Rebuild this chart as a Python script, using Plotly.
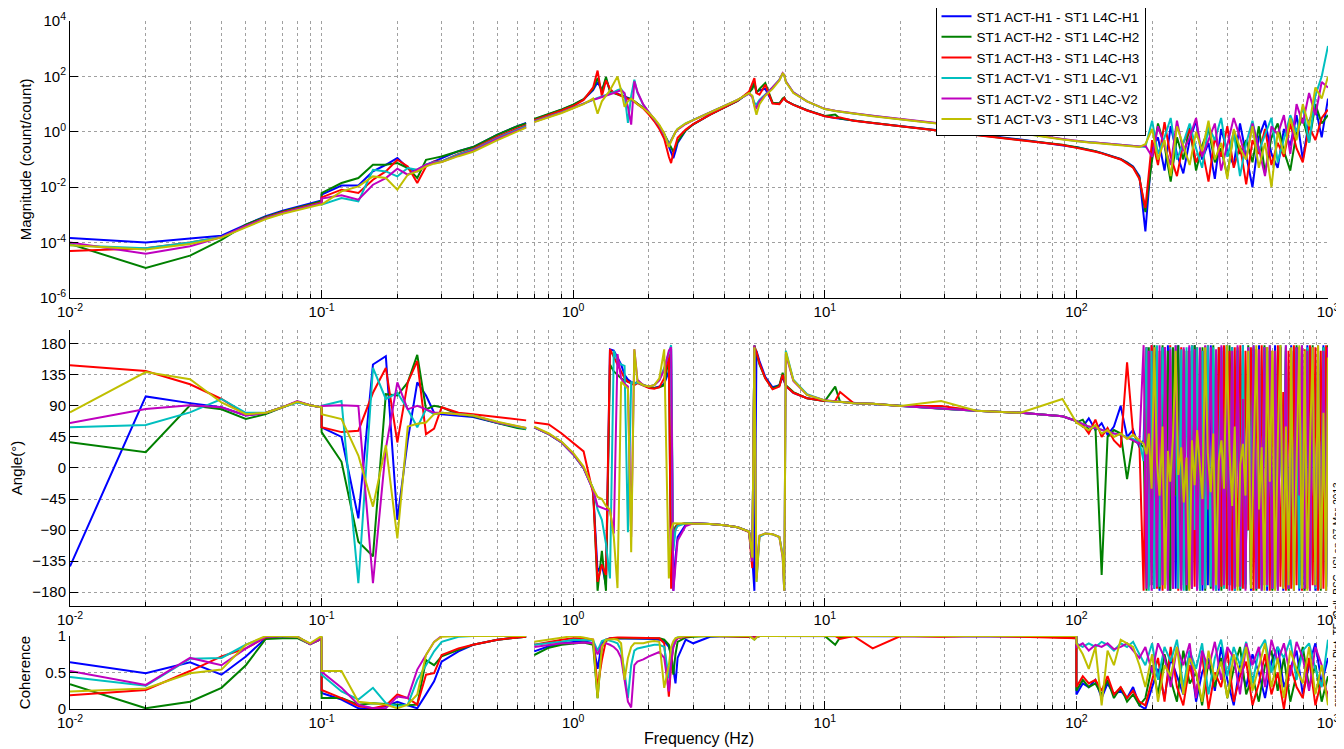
import plotly.graph_objects as go

# frequency bands (Hz)
F_A = [0.01, 0.02, 0.03, 0.04, 0.05, 0.06, 0.07, 0.08, 0.09, 0.1]
F_B = [0.1, 0.12, 0.14, 0.16, 0.18, 0.2, 0.22, 0.24, 0.26, 0.28, 0.3, 0.35, 0.4, 0.5, 0.6, 0.65]
F_C = [0.7, 0.8, 0.9, 1.0, 1.1, 1.2, 1.25, 1.3, 1.35, 1.4, 1.45, 1.5, 1.55, 1.6, 1.65, 1.7, 1.75, 1.8, 1.9, 2.0,
       2.1, 2.2, 2.3, 2.4, 2.45, 2.5, 2.55, 2.6, 2.8, 3.0, 3.5, 4.0, 4.5, 5.0, 5.15, 5.25, 5.35, 5.5, 5.8, 6.2,
       6.6, 6.8, 6.9, 7.0, 7.5, 8.5, 10, 11, 11.5, 13, 15.5, 20, 29, 40, 60, 88, 100]
F_D = [100, 106, 112, 119, 126, 133, 141, 150, 159, 168, 178, 188, 200, 211, 224, 237, 251, 266, 282, 299,
       316, 335, 355, 376, 398, 422, 447, 473, 501, 531, 562, 596, 631, 668, 708, 750, 794, 841, 891, 944, 1000]
# finer points used for the wrapped phase above 185 Hz
F_P = [185, 190, 194, 199, 204, 209, 214, 220, 225, 231, 236, 242, 248, 254, 261, 267, 274, 281, 288, 295,
       302, 310, 317, 325, 333, 342, 350, 359, 368, 377, 386, 396, 406, 416, 426, 437, 448, 459, 470, 482,
       494, 506, 519, 532, 545, 559, 573, 587, 601, 616, 632, 647, 664, 680, 697, 714, 732, 750, 769, 788,
       808, 828, 848, 869, 891, 913, 936, 959, 983, 1000]

# None splits the 0.1-0.65 Hz measurement from the 0.7-1000 Hz one
FREQ = F_A + F_B + [None] + F_C + F_D
FREQ_ANG = F_A + F_B + [None] + F_C + F_D[:11] + F_P

NAMES = ["ST1 ACT-H1 - ST1 L4C-H1", "ST1 ACT-H2 - ST1 L4C-H2", "ST1 ACT-H3 - ST1 L4C-H3",
         "ST1 ACT-V1 - ST1 L4C-V1", "ST1 ACT-V2 - ST1 L4C-V2", "ST1 ACT-V3 - ST1 L4C-V3"]
COLORS = ["#0000ff", "#008000", "#ff0000", "#00bfbf", "#bf00bf", "#bfbf00"]

# magnitude, log10(count/count)
mag_h1 = [
    -3.83, -4.0, -3.85, -3.75, -3.35, -3.05, -2.85, -2.72, -2.6, -2.48,
    -2.27, -1.94, -1.94, -1.43, -1.19, -0.95, -1.31, -1.43, -1.19, -1.07, -0.95, -0.7, -0.55, -0.1, 0.2, 0.32,
    None,
    0.45, 0.63, 0.8, 0.97, 1.17, 1.5, 1.8, 1.5, 1.9, 1.5, 1.42, 1.38, 1.33, 1.28, 1.23, 1.18, 1.1, 1.02, 0.86, 0.66,
    0.44, 0.2, -0.1, -0.5, -0.75, -0.95, -0.7, -0.4, 0.05, 0.27, 0.62, 0.87, 1.12, 1.42, 1.6, 1.8, 1.45, 1.5, 1.55, 1.05,
    1.02, 1.18, 1.22, 1.12, 0.98, 0.78, 0.57, 0.5, 0.47, 0.41, 0.32, 0.2, 0.04, -0.1, -0.28, -0.47, -0.56,
    -0.55, -0.6, -0.64, -0.7, -0.76, -0.83, -0.9, -0.98, -1.1, -1.25, -1.6, -3.6, -0.6, -0.2, -1.4, 0.2, -0.8, -1.5, -0.3, 0.4,
    -1.0, -0.4, -1.7, 0.1, -0.7, -1.2, 0.3, -0.9, -2.0, -0.2, 0.4, -0.8, -1.3, 0.1, -0.5, 0.6, -1.0, 0.4, 0.9, -0.2, 1.2,
]
mag_h2 = [
    -4.05, -4.92, -4.47, -3.9, -3.35, -3.07, -2.88, -2.75, -2.62, -2.5,
    -2.21, -1.85, -1.67, -1.19, -1.19, -1.13, -1.31, -1.67, -1.01, -0.95, -0.89, -0.7, -0.55, -0.1, 0.2, 0.3,
    None,
    0.46, 0.64, 0.81, 0.98, 1.18, 1.55, 1.94, 1.45, 1.98, 1.45, 1.4, 1.36, 1.32, 1.27, 1.22, 1.17, 1.1, 1.02, 0.86, 0.66,
    0.44, 0.2, -0.08, -0.4, -0.6, -0.72, -0.55, -0.35, 0.05, 0.27, 0.62, 0.87, 1.12, 1.42, 1.55, 1.76, 1.4, 1.55, 1.76, 1.05,
    1.02, 1.2, 1.24, 1.12, 0.98, 0.78, 0.57, 0.62, 0.48, 0.41, 0.32, 0.2, 0.04, -0.1, -0.28, -0.47, -0.56,
    -0.56, -0.6, -0.65, -0.7, -0.77, -0.84, -0.9, -0.99, -1.12, -1.28, -1.65, -2.9, -1.0, 0.3, -0.5, -1.8, -0.2, -1.0, 0.2, -1.4,
    -0.5, 0.1, -1.1, -0.6, -1.6, 0.0, -0.8, -0.3, -1.1, 0.2, -1.5, -0.2, 0.3, -0.7, -1.4, 0.0, 0.5, -0.4, 1.0, 0.3, 0.6,
]
mag_h3 = [
    -4.3, -4.2, -4.0, -3.8, -3.4, -3.1, -2.9, -2.77, -2.65, -2.55,
    -2.37, -2.09, -2.21, -1.73, -1.43, -1.01, -1.25, -1.85, -1.25, -1.07, -1.07, -0.8, -0.62, -0.18, 0.12, 0.24,
    None,
    0.42, 0.6, 0.77, 0.93, 1.15, 1.6, 2.21, 1.28, 1.85, 1.55, 1.42, 1.36, 1.3, 1.25, 1.2, 1.15, 1.08, 1.0, 0.84, 0.62,
    0.38, 0.1, -0.25, -0.9, -1.13, -0.75, -0.45, -0.22, 0.08, 0.28, 0.62, 0.87, 1.12, 1.45, 1.75, 1.94, 1.4, 1.34, 1.7, 1.02,
    1.0, 1.18, 1.22, 1.12, 0.97, 0.77, 0.56, 0.5, 0.52, 0.4, 0.32, 0.2, 0.05, -0.1, -0.28, -0.48, -0.58,
    -0.58, -0.62, -0.66, -0.72, -0.78, -0.85, -0.92, -1.0, -1.15, -1.3, -1.7, -2.75, -0.3, -1.2, 0.35, -0.9, -1.6, -0.4, 0.1, -1.1,
    -0.6, -1.8, -0.2, -0.9, 0.2, -1.3, -0.5, -1.9, -0.3, -0.8, 0.1, -1.2, -0.4, -0.9, 0.3, -0.6, -1.1, 0.2, -0.3, 0.5, 0.8,
]
mag_v1 = [
    -4.1, -4.2, -4.0, -3.8, -3.42, -3.12, -2.93, -2.8, -2.68, -2.58,
    -2.63, -2.39, -2.51, -1.37, -1.43, -1.61, -1.31, -1.37, -1.19, -1.1, -1.07, -0.82, -0.65, -0.22, 0.08, 0.2,
    None,
    0.38, 0.55, 0.71, 0.87, 1.03, 1.17, 1.22, 1.28, 1.33, 1.38, 1.43, 1.5, 1.55, 1.35, 0.32, 1.3, 1.88, 1.4, 0.97, 0.7,
    0.47, 0.22, -0.1, -0.45, -0.3, -0.12, 0.0, 0.1, 0.3, 0.43, 0.7, 0.93, 1.15, 1.38, 1.3, 1.05, 0.98, 1.15, 1.35, 1.6,
    1.88, 2.1, 2.05, 1.82, 1.42, 1.1, 0.82, 0.75, 0.72, 0.66, 0.57, 0.45, 0.29, 0.16, -0.04, -0.27, -0.34,
    -0.33, -0.35, -0.37, -0.38, -0.4, -0.42, -0.44, -0.46, -0.48, -0.5, -0.52, -0.55, 0.4, -0.8, -0.2, 0.5, -1.0, -0.4, 0.3, -0.6,
    -1.3, 0.2, -0.3, 0.5, -0.9, 0.0, -1.6, -0.4, 0.4, -0.7, -0.1, 0.5, -1.1, -0.3, 0.6, 0.0, 0.9, -0.4, 1.3, 2.0, 3.1,
]
mag_v2 = [
    -4.0, -4.4, -4.13, -3.8, -3.4, -3.12, -2.93, -2.8, -2.68, -2.58,
    -2.41, -2.29, -2.45, -1.91, -1.67, -1.33, -1.55, -1.37, -1.19, -1.12, -1.09, -0.85, -0.68, -0.25, 0.05, 0.17,
    None,
    0.36, 0.53, 0.7, 0.86, 1.02, 1.16, 1.2, 1.26, 1.3, 1.35, 1.4, 1.45, 1.5, 1.4, 0.9, 0.26, 1.82, 1.45, 0.98, 0.7,
    0.47, 0.22, -0.1, -0.5, -0.32, -0.15, -0.02, 0.08, 0.28, 0.42, 0.7, 0.93, 1.15, 1.38, 1.25, 0.95, 0.86, 1.1, 1.33, 1.58,
    1.87, 2.12, 2.05, 1.82, 1.42, 1.1, 0.83, 0.76, 0.73, 0.67, 0.58, 0.46, 0.3, 0.17, -0.03, -0.26, -0.33,
    -0.34, -0.36, -0.38, -0.39, -0.41, -0.43, -0.45, -0.47, -0.49, -0.51, -0.53, -0.5, -0.9, 0.2, -0.5, -1.2, 0.4, -0.7, -0.2, 0.5,
    -0.9, -0.3, 0.3, -1.4, -0.5, 0.5, -0.2, -1.0, 0.3, -0.6, -1.6, 0.2, -0.1, 0.6, -0.8, 1.0, 0.3, 1.4, 0.6, 1.8, 1.6,
]
mag_v3 = [
    -4.1, -4.25, -4.05, -3.82, -3.45, -3.15, -2.96, -2.83, -2.71, -2.62,
    -2.63, -2.15, -1.97, -1.61, -1.67, -2.09, -1.55, -1.43, -1.25, -1.15, -1.09, -0.88, -0.72, -0.3, 0.02, 0.15,
    None,
    0.35, 0.52, 0.68, 0.85, 1.0, 1.2, 0.65, 1.1, 1.3, 1.5, 1.75, 2.0, 1.5, 0.9, 1.1, 1.2, 1.1, 1.0, 0.85, 0.68,
    0.48, 0.25, -0.05, -0.55, -0.35, -0.15, 0.0, 0.1, 0.3, 0.42, 0.7, 0.92, 1.15, 1.4, 1.3, 0.9, 0.62, 1.0, 1.3, 1.55,
    1.85, 2.1, 2.05, 1.8, 1.4, 1.1, 0.82, 0.75, 0.72, 0.66, 0.56, 0.44, 0.28, 0.15, -0.05, -0.28, -0.35,
    -0.35, -0.37, -0.39, -0.4, -0.42, -0.44, -0.46, -0.48, -0.5, -0.52, -0.55, -0.45, 0.1, -1.0, -0.3, -1.6, 0.2, -0.5, -1.2, 0.0,
    -0.7, 0.4, -1.0, -0.4, -1.7, 0.1, -0.6, -1.0, 0.2, -1.3, -0.4, -2.0, 0.0, -0.8, 0.5, -0.3, 1.0, 0.2, 1.6, 1.2, 2.0,
]

# phase, degrees (on FREQ_ANG)
ang_h1 = [
    -142.6, 103.7, 94, 88, 76, 80, 88, 96, 91, 88,
    59, 45, -73, 150, 162, -75, 40, 124, 105, 80, 78, 76, 74, 65, 59, 57,
    None,
    59, 49, 37, 20, 0, -32, -150, -140, -170, 172, 170, 160, 150, 135, 128, 125, 122, 125, 120, 117,
    116, 118, 122, 140, 172, -178, -130, -100, -82, -80, -81, -83, -86, -92, -130, -178, 170, 155, 132, 117,
    120, 132, 126, 119, 109, 101, 97, 96, 96, 94, 93, 90, 86, 83, 80, 75, 68,
    68, 60, 72, 55, 65, 48, 60, 90, 45, 55, 30,
    40, 175, -170, 178, -175, 170, -178, 175, -165, 178, -178, 172, -175, 178, -170, 60, -178, 175, -172, 178,
    -175, 170, -178, 176, -170, 178, -175, 165, -178, 175, -172, 178, -170, 175, -178, 170, -175, 178, -168, 175,
    -178, 172, -175, 178, -170, 175, -178, 170, -176, 178, -172, 175, -178, 170, -175, 178, -170, 175, -178, 172,
    -175, 178, -170, 175, -178, 170, -175, 178, -172, 175,
]
ang_h2 = [
    37.4, 23, 91, 85, 71, 78, 88, 96, 91, 88,
    52, 9, -107, -128, 107, 105, 124, 164, 85, 90, 88, 78, 75, 65, 58, 56,
    None,
    59, 49, 37, 20, 0, -30, -178, -120, -178, 150, 140, 135, 130, 127, 125, 122, 121, 124, 120, 117,
    116, 117, 120, 160, -150, -95, -85, -82, -80, -80, -81, -83, -86, -92, -135, 178, 165, 150, 130, 115,
    120, 138, 128, 120, 110, 101, 97, 118, 96, 94, 93, 90, 86, 83, 80, 75, 68,
    66, 70, 55, 60, -155, 45, 55, 50, -16, 40, 35,
    30, -178, 175, -170, 178, 120, -175, 178, -172, 170, -178, 175, -40, 178, -175, 172, -178, 170, -175, 178,
    90, -170, 175, -178, 172, -175, 178, -170, 175, -178, 170, -175, 178, 20, -172, 175, -178, 170, -175, 178,
    -170, 175, -178, 172, -175, 178, -60, 175, -178, 170, -175, 178, -172, 175, -178, 170, -175, 178, -170, 175,
    -178, 172, -175, 178, -170, 140, -178, 175, -172, 178,
]
ang_h3 = [
    148.8, 140.6, 121.4, 100, 78, 80, 88, 96, 91, 88,
    59, 52, 54, 109, 145, 37, 124, 155, 49, 57, 88, 80, 78, 74, 71, 69,
    None,
    66, 63, 50, 37, 24, -37, -165, -140, -155, 172, 160, 150, 140, 130, 125, 122, 120, 123, 119, 116,
    115, 117, 130, 166, -175, -110, -88, -82, -80, -80, -81, -83, -86, -93, -145, 176, 168, 152, 130, 114,
    118, 135, 127, 119, 109, 101, 97, 97, 110, 94, 93, 90, 90, 83, 80, 75, 68,
    66, 62, 50, 70, 45, 58, 40, 30, 153, 50, 35,
    -178, 175, -172, 178, 80, -175, 170, -178, 175, -170, 178, -175, 172, -178, 175, -60, 170, -175, 178, -172,
    175, -178, 170, -175, 178, -170, 40, -178, 175, -172, 178, -175, 170, -178, 175, -172, 178, -175, 170, -90,
    175, -178, 172, -175, 178, -170, 175, -178, 170, -175, 178, -172, 110, -178, 170, -175, 178, -170, 175, -178,
    172, -175, 178, -170, 175, -178, 170, -175, 178, 60,
]
ang_v1 = [
    59, 62.4, 80.6, 100, 80, 80, 88, 95, 91, 88,
    90, 97, -167, 145, 100, 109, 85, 59, 85, 78, 80, 78, 76, 66, 60, 57,
    None,
    59, 49, 37, 20, 0, -30, -60, -75, -110, -160, 170, 155, 150, 148, -93, 125, 122, 124, 120, 118,
    120, 128, 145, 165, 178, -120, -90, -84, -80, -80, -81, -83, -86, -92, -135, 175, -165, -100, -95, -96,
    -100, -125, -178, 170, 128, 107, 98, 96, 96, 94, 93, 90, 86, 83, 80, 75, 68,
    67, 64, 60, 58, 55, 52, 50, 48, 45, 42, 38,
    10, 175, -178, 170, -175, 178, -172, 175, 60, -178, 175, -170, 178, -175, 172, -178, 175, -170, 178, -90,
    175, -178, 170, -175, 178, -172, 175, -178, 20, 170, -175, 178, -170, 175, -178, 172, -175, 178, -170, 175,
    -50, 178, -175, 170, -178, 175, -172, 178, -175, 170, -178, 175, -170, 178, -175, 130, -178, 172, -175, 178,
    -170, 175, -178, 170, -175, 178, -172, 175, -178, 170,
]
ang_v2 = [
    65, 85.4, 91, 88, 76, 80, 88, 97, 91, 88,
    90, 91, 90, -167, 28, 124, 85, 90, 85, 80, 80, 78, 76, 66, 60, 58,
    None,
    59, 49, 37, 20, 0, -32, -55, -58, -60, -62, -95, 165, 130, 122, 118, -100, 172, 128, 120, 118,
    120, 127, 142, 170, 175, -178, -140, -105, -84, -80, -81, -83, -86, -92, -135, 178, -160, -98, -95, -96,
    -100, -130, -178, 165, 126, 106, 98, 96, 96, 94, 93, 90, 86, 83, 80, 75, 68,
    67, 64, 60, 58, 55, 52, 50, 48, 44, 40, 35,
    178, -175, 170, -178, 175, -172, 178, -170, 175, -178, 172, -175, 178, 30, -178, 175, -170, 178, -175, 172,
    -178, 175, -170, 178, -60, 175, -178, 172, -175, 178, -170, 175, -178, 170, -175, 178, -172, 100, -178, 175,
    -170, 178, -175, 172, -178, 175, -170, 178, -175, 170, -178, 175, -172, 178, -175, 170, -178, 175, -40, 178,
    -175, 170, -178, 175, -172, 178, -175, 170, -178, 175,
]
ang_v3 = [
    80.6, 139, 128.6, 95, 78, 80, 88, 96, 91, 88,
    78, 71, 18, -56, 33, -102, 60, 64, 66, 78, 80, 78, 76, 67, 61, 58,
    None,
    60, 50, 38, 22, 2, -30, -42, -45, -55, -60, -100, -174, 125, 120, 115, -122, 172, 125, 120, 118,
    120, 130, 172, -160, -90, -80, -80, -80, -80, -80, -81, -83, -86, -92, -130, 175, -165, -98, -95, -96,
    -100, -128, -178, 168, 127, 106, 98, 96, 96, 94, 93, 90, 97, 83, 80, 100, 68,
    66, 60, 55, 62, 50, 55, 45, 50, 42, 48, 40,
    35, 20, 50, -30, 175, 10, -40, 60, -175, 25, -20, 45, 170, -10, 30, -50, 15, -178, 40, -25,
    55, 0, -45, 175, 20, -35, 50, -170, 10, 40, -30, 178, 25, -55, 60, -178, 5, 35, -40, 170,
    -175, 20, 178, -60, 30, -178, 175, -20, 170, -178, 45, 178, -175, 60, -170, 175, -178, 10, 178, -175,
    170, -178, 30, 175, -170, 178, -175, 80, -178, 160,
]

# coherence
coh_h1 = [
    0.64, 0.49, 0.64, 0.47, 0.72, 0.97, 1.0, 0.99, 0.89, 0.96,
    0.22, 0.13, 0.01, 0.0, 0.04, 0.10, 0.05, 0.01, 0.20, 0.38, 0.65, 0.79, 0.88, 0.95, 0.98, 0.99,
    None,
    0.79, 0.86, 0.9, 0.92, 0.93, 0.9, 0.55, 0.9, 0.95, 0.97, 0.97, 0.96, 0.97, 0.97, 0.96, 0.97, 0.97, 0.97, 0.97, 0.96,
    0.96, 0.95, 0.93, 0.85, 0.75, 0.55, 0.35, 0.7, 0.95, 0.9, 0.99, 1.0, 1.0, 1.0, 0.99, 0.98, 0.99, 1.0, 1.0, 1.0,
    1.0, 1.0, 1.0, 1.0, 1.0, 1.0, 1.0, 1.0, 1.0, 1.0, 1.0, 1.0, 1.0, 1.0, 1.0, 0.99, 0.99,
    0.2, 0.35, 0.3, 0.4, 0.15, 0.35, 0.2, 0.25, 0.15, 0.3, 0.05, 0.0, 0.3, 0.55, 0.15, 0.7, 0.45, 0.2, 0.8, 0.1,
    0.5, 0.7, 0.25, 0.85, 0.4, 0.05, 0.6, 0.3, 0.75, 0.5, 0.15, 0.65, 0.85, 0.3, 0.55, 0.8, 0.2, 0.6, 0.9, 0.35, 0.7,
]
coh_h2 = [
    0.34, 0.01, 0.10, 0.29, 0.60, 0.96, 0.97, 0.97, 0.89, 0.96,
    0.15, 0.15, 0.06, 0.08, 0.07, 0.06, 0.05, 0.06, 0.67, 0.60, 0.72, 0.81, 0.88, 0.95, 0.98, 0.99,
    None,
    0.74, 0.84, 0.88, 0.9, 0.91, 0.88, 0.15, 0.85, 0.93, 0.96, 0.97, 0.97, 0.97, 0.97, 0.97, 0.97, 0.97, 0.98, 0.98, 0.98,
    0.98, 0.97, 0.95, 0.88, 0.7, 0.47, 0.75, 0.92, 0.98, 0.99, 1.0, 1.0, 1.0, 1.0, 0.99, 0.97, 0.99, 1.0, 1.0, 1.0,
    1.0, 1.0, 1.0, 1.0, 1.0, 1.0, 1.0, 0.88, 0.98, 1.0, 1.0, 1.0, 1.0, 1.0, 1.0, 0.98, 0.97,
    0.25, 0.4, 0.3, 0.35, 0.2, 0.4, 0.15, 0.3, 0.1, 0.2, 0.05, 0.15, 0.6, 0.2, 0.75, 0.4, 0.1, 0.8, 0.35, 0.5,
    0.05, 0.65, 0.3, 0.7, 0.15, 0.55, 0.85, 0.2, 0.45, 0.1, 0.6, 0.8, 0.25, 0.7, 0.1, 0.5, 0.85, 0.3, 0.6, 0.1, 0.45,
]
coh_h3 = [
    0.19, 0.26, 0.52, 0.72, 0.83, 0.98, 1.0, 0.99, 0.89, 0.96,
    0.26, 0.15, 0.04, 0.01, 0.05, 0.20, 0.15, 0.06, 0.47, 0.49, 0.74, 0.83, 0.88, 0.95, 0.98, 0.99,
    None,
    0.88, 0.92, 0.95, 0.97, 0.97, 0.95, 0.3, 0.67, 0.94, 0.97, 0.98, 0.98, 0.98, 0.98, 0.98, 0.98, 0.98, 0.98, 0.98, 0.98,
    0.98, 0.97, 0.9, 0.17, 0.6, 0.85, 0.93, 0.97, 0.99, 1.0, 1.0, 1.0, 1.0, 1.0, 0.99, 0.98, 0.99, 1.0, 1.0, 1.0,
    1.0, 1.0, 1.0, 1.0, 1.0, 1.0, 1.0, 1.0, 0.96, 1.0, 0.83, 1.0, 0.99, 1.0, 0.99, 0.97, 0.97,
    0.3, 0.45, 0.35, 0.4, 0.25, 0.45, 0.2, 0.3, 0.15, 0.25, 0.1, 0.05, 0.4, 0.7, 0.1, 0.85, 0.3, 0.05, 0.6, 0.2,
    0.75, 0.0, 0.5, 0.3, 0.8, 0.1, 0.45, 0.65, 0.05, 0.35, 0.75, 0.2, 0.5, 0.0, 0.6, 0.3, 0.15, 0.7, 0.05, 0.4, 0.2,
]
coh_v1 = [
    0.44, 0.32, 0.69, 0.70, 0.88, 0.99, 1.0, 0.99, 0.89, 0.97,
    0.47, 0.24, 0.13, 0.29, 0.08, 0.04, 0.06, 0.40, 0.60, 0.79, 0.92, 0.99, 1.0, 1.0, 1.0, 1.0,
    None,
    0.88, 0.9, 0.92, 0.95, 0.95, 0.94, 0.8, 0.93, 0.95, 0.94, 0.92, 0.9, 0.8, 0.5, 0.15, 0.6, 0.8, 0.83, 0.85, 0.87,
    0.88, 0.88, 0.85, 0.42, 0.7, 0.88, 0.95, 0.98, 1.0, 1.0, 1.0, 1.0, 1.0, 1.0, 0.98, 0.95, 0.98, 1.0, 1.0, 1.0,
    1.0, 1.0, 0.99, 1.0, 1.0, 1.0, 1.0, 1.0, 1.0, 1.0, 1.0, 1.0, 1.0, 1.0, 1.0, 1.0, 1.0,
    0.9, 0.85, 0.9, 0.85, 0.92, 0.88, 0.8, 0.9, 0.85, 0.92, 0.75, 0.6, 0.9, 0.4, 0.85, 0.65, 0.95, 0.3, 0.8, 0.55,
    0.9, 0.2, 0.7, 0.95, 0.45, 0.85, 0.6, 0.92, 0.35, 0.8, 0.95, 0.5, 0.85, 0.7, 0.95, 0.4, 0.8, 0.9, 0.55, 0.3, 0.95,
]
coh_v2 = [
    0.52, 0.33, 0.70, 0.60, 0.83, 0.99, 1.0, 0.99, 0.89, 0.97,
    0.51, 0.29, 0.06, 0.01, 0.01, 0.17, 0.15, 0.54, 0.74, 0.92, 1.0, 1.0, 1.0, 1.0, 1.0, 1.0,
    None,
    0.85, 0.88, 0.9, 0.9, 0.91, 0.9, 0.75, 0.88, 0.9, 0.88, 0.85, 0.8, 0.7, 0.4, 0.1, 0.02, 0.6, 0.65, 0.68, 0.72,
    0.75, 0.78, 0.7, 0.24, 0.65, 0.85, 0.93, 0.97, 1.0, 1.0, 1.0, 1.0, 1.0, 1.0, 0.98, 0.96, 0.98, 1.0, 1.0, 1.0,
    1.0, 1.0, 0.99, 1.0, 1.0, 1.0, 1.0, 1.0, 1.0, 1.0, 1.0, 1.0, 1.0, 1.0, 1.0, 1.0, 1.0,
    0.85, 0.9, 0.8, 0.88, 0.85, 0.9, 0.82, 0.85, 0.9, 0.8, 0.7, 0.85, 0.5, 0.9, 0.7, 0.3, 0.85, 0.6, 0.9, 0.15,
    0.8, 0.55, 0.92, 0.4, 0.85, 0.7, 0.2, 0.9, 0.6, 0.85, 0.3, 0.95, 0.65, 0.9, 0.45, 0.92, 0.7, 0.25, 0.85, 0.6, 0.1,
]
coh_v3 = [
    0.24, 0.28, 0.49, 0.54, 0.88, 1.0, 1.0, 0.99, 0.90, 1.0,
    0.52, 0.52, 0.10, 0.08, 0.06, 0.01, 0.06, 0.20, 0.74, 0.92, 0.99, 1.0, 1.0, 1.0, 1.0, 1.0,
    None,
    0.92, 0.95, 0.97, 1.0, 0.98, 0.95, 0.15, 0.85, 0.95, 0.96, 0.96, 0.95, 0.9, 0.4, 0.7, 0.85, 0.9, 0.9, 0.9, 0.92,
    0.93, 0.92, 0.29, 0.6, 0.85, 0.93, 0.97, 0.98, 1.0, 1.0, 1.0, 1.0, 1.0, 1.0, 0.97, 0.95, 0.98, 1.0, 1.0, 1.0,
    1.0, 1.0, 0.99, 1.0, 1.0, 1.0, 1.0, 1.0, 1.0, 1.0, 1.0, 1.0, 1.0, 1.0, 1.0, 1.0, 1.0,
    0.9, 0.75, 0.55, 0.85, 0.05, 0.8, 0.6, 0.95, 0.9, 0.85, 0.6, 0.3, 0.75, 0.1, 0.6, 0.45, 0.85, 0.2, 0.7, 0.5,
    0.1, 0.8, 0.4, 0.65, 0.15, 0.75, 0.5, 0.85, 0.25, 0.6, 0.9, 0.3, 0.7, 0.15, 0.8, 0.55, 0.35, 0.85, 0.2, 0.6, 0.05,
]

MAGS = [mag_h1, mag_h2, mag_h3, mag_v1, mag_v2, mag_v3]
ANGS = [ang_h1, ang_h2, ang_h3, ang_v1, ang_v2, ang_v3]
COHS = [coh_h1, coh_h2, coh_h3, coh_v1, coh_v2, coh_v3]

for arr in MAGS + COHS:
    assert len(arr) == len(FREQ), len(arr)
for arr in ANGS:
    assert len(arr) == len(FREQ_ANG), len(arr)

FONT = "Arial, Liberation Sans, sans-serif"
GRID = "#a0a0a0"

fig = go.Figure()
for name, color, mag, ang, coh in zip(NAMES, COLORS, MAGS, ANGS, COHS):
    line = dict(color=color, width=2)
    fig.add_trace(go.Scatter(x=FREQ, y=[None if v is None else 10 ** v for v in mag],
                             mode="lines", line=line, name=name, xaxis="x", yaxis="y"))
    fig.add_trace(go.Scatter(x=FREQ_ANG, y=ang, mode="lines", line=line, name=name,
                             showlegend=False, xaxis="x2", yaxis="y2"))
    fig.add_trace(go.Scatter(x=FREQ, y=coh, mode="lines", line=line, name=name,
                             showlegend=False, xaxis="x3", yaxis="y3"))

decades = [0.01, 0.1, 1, 10, 100, 1000]
minor = [k * d for d in decades[:-1] for k in range(2, 10)]

xax = dict(type="log", range=[-2, 3], tickmode="array", tickvals=decades,
           ticktext=["10<sup>-2</sup>", "10<sup>-1</sup>", "10<sup>0</sup>",
                     "10<sup>1</sup>", "10<sup>2</sup>", "10<sup>3</sup>"],
           ticks="inside", ticklen=8, tickcolor="black", showline=True, linecolor="black",
           zeroline=False, showgrid=True, gridcolor=GRID, griddash="dot",
           minor=dict(tickmode="array", tickvals=minor, ticks="inside", ticklen=4, tickcolor="black",
                      showgrid=True, gridcolor=GRID, griddash="dot"),
           tickfont=dict(size=15, color="black"))
yax = dict(ticks="inside", ticklen=8, tickcolor="black", showline=True, linecolor="black",
           zeroline=False, showgrid=True, gridcolor=GRID, griddash="dot",
           tickfont=dict(size=15, color="black"), title_font=dict(size=15, color="black"))

fig.update_layout(
    width=1344, height=749,
    font=dict(family=FONT, color="black"),
    paper_bgcolor="white", plot_bgcolor="white",
    margin=dict(l=62, r=24, t=13, b=48, autoexpand=False),
    xaxis=dict(xax, domain=[0, 1], anchor="y"),
    xaxis2=dict(xax, domain=[0, 1], anchor="y2"),
    xaxis3=dict(xax, domain=[0, 1], anchor="y3",
                title=dict(text="Frequency (Hz)", font=dict(size=16), standoff=2)),
    yaxis=dict(yax, type="log", range=[-6, 4], domain=[0.5974, 1.0], anchor="x",
               tickmode="array", tickvals=[1e-6, 1e-4, 1e-2, 1, 100, 1e4],
               ticktext=["10<sup>-6</sup>", "10<sup>-4</sup>", "10<sup>-2</sup>",
                         "10<sup>0</sup>", "10<sup>2</sup>", "10<sup>4</sup>"],
               title=dict(text="Magnitude (count/count)", standoff=4)),
    yaxis2=dict(yax, range=[-200, 200], domain=[0.1497, 0.5509], anchor="x2",
                tickmode="array", tickvals=[-180, -135, -90, -45, 0, 45, 90, 135, 180],
                title=dict(text="Angle(°)", standoff=6)),
    yaxis3=dict(yax, range=[0, 1], domain=[0, 0.1061], anchor="x3",
                tickmode="array", tickvals=[0, 0.5, 1], ticktext=["0", "0.5", "1"],
                title=dict(text="Coherence", standoff=10)),
    legend=dict(x=0.688, y=1.0305, xanchor="left", yanchor="top", bgcolor="white",
                bordercolor="black", borderwidth=1, font=dict(size=13.5, color="black"),
                tracegroupgap=0),
    showlegend=True,
)

fig.add_annotation(text="created by Plot_TF_Coll_BSC_ISI on 07-Mar-2013",
                   xref="paper", yref="paper", x=1.0135, y=0.167, xanchor="right", yanchor="middle",
                   textangle=-90, showarrow=False, font=dict(size=10, color="black"))

fig.write_html("out.html")
